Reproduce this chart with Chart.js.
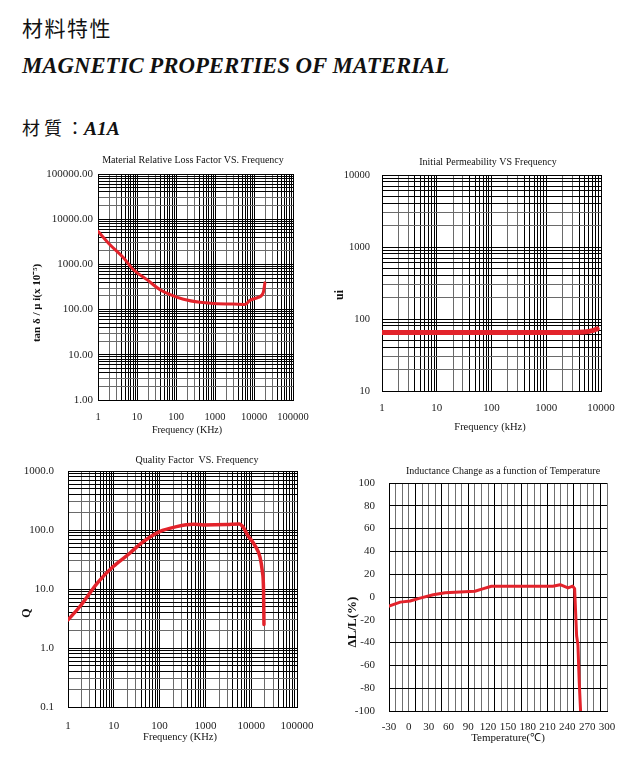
<!DOCTYPE html>
<html>
<head>
<meta charset="utf-8">
<script src="https://cdn.jsdelivr.net/npm/chart.js@4.4.1/dist/chart.umd.min.js"></script>
<style>
  body { margin: 0; background: #fff; width: 631px; height: 757px; position: relative; overflow: hidden; }
  .hd { position: absolute; left: 22px; color: #111; white-space: nowrap; line-height: 1; }
  #h1 { top: 12px; font: 21px "Noto Sans CJK TC"; letter-spacing: 1.5px; }
  #h2 { top: 53px; font: italic bold 22.8px "Liberation Serif"; }
  #h3 { top: 114px; font: 18px "Noto Sans CJK TC"; }
  #h3 .cj { letter-spacing: 4px; }
  #h3 b { font: italic bold 19.5px "Liberation Serif"; }
  canvas { position: absolute; }
</style>
</head>
<body>
<div class="hd" id="h1">材料特性</div>
<div class="hd" id="h2">MAGNETIC PROPERTIES OF MATERIAL</div>
<div class="hd" id="h3"><span class="cj">材質</span>：<b>A1A</b></div>

<canvas id="lossChart" width="310" height="295" style="left:0;top:145px"></canvas>
<canvas id="permChart" width="300" height="295" style="left:320px;top:145px"></canvas>
<canvas id="qChart" width="320" height="305" style="left:0;top:445px"></canvas>
<canvas id="tempChart" width="311" height="300" style="left:320px;top:455px"></canvas>

<script>
// Material relative loss factor tan d / ui (x10^-5) vs frequency (kHz)
const lossFreq = [1, 2, 4.5, 8, 18, 39, 71, 155, 415, 1100, 2950, 5900, 7900, 12800, 17300, 19000];
const lossValue = [5400, 2750, 1400, 770, 460, 275, 215, 170, 145, 135, 133, 129, 160, 186, 240, 390];
const lossXLabels = ['1', '10', '100', '1000', '10000', '100000'];
const lossYLabels = ['1.00', '10.00', '100.00', '1000.00', '10000.00', '100000.00'];

// Initial permeability vs frequency (kHz)
const permFreq = [1, 10, 100, 1000, 3000, 5000, 7000, 8500];
const permValue = [65, 65, 65, 65, 65, 66, 69, 73];
const permXLabels = ['1', '10', '100', '1000', '10000'];
const permYLabels = ['10', '100', '1000', '10000'];

// Quality factor vs frequency (kHz)
const qFreq = [1, 1.8, 4.5, 9.7, 22, 40, 100, 234, 550, 900, 2950, 5500, 6500, 8500, 12000, 15500, 17500, 18600, 19000];
const qValue = [3.0, 5.0, 13, 24, 40, 60, 94, 114, 125, 122, 124, 127, 115, 80, 55, 35, 20, 9.6, 2.5];
const qXLabels = ['1', '10', '100', '1000', '10000', '100000'];
const qYLabels = ['0.1', '1.0', '10.0', '100.0', '1000.0'];

// Inductance change (%) vs temperature (C)
const tempC = [-30, -13, 2, 17, 37, 55, 77, 100, 113, 125, 150, 218, 229, 241, 248, 251, 254, 256, 258, 260];
const dLL = [-8, -4.5, -3.5, -1, 2, 3.8, 4.4, 5, 7.3, 9.4, 9.4, 9.4, 10.8, 8, 9.6, 7.3, -34, -42, -75, -100];
const tempXLabels = ['-30', '0', '30', '60', '90', '120', '150', '180', '210', '240', '270', '300'];
const dLLYLabels = ['-100', '-80', '-60', '-40', '-20', '0', '20', '40', '60', '80', '100'];

const RED = '#e3232b';

Chart.defaults.font.family = '"Liberation Serif", serif';
Chart.defaults.color = '#111';
Chart.defaults.animation = false;
Chart.defaults.events = [];
Chart.defaults.plugins.legend.display = false;
Chart.defaults.plugins.tooltip.enabled = false;

// Titles drawn at fixed spots of each canvas
const captions = {
    lossChart: [
        { text: 'Material Relative Loss Factor VS. Frequency', x: 193, y: 15, font: '10px "Liberation Serif"' },
        { text: 'tan δ / μ i(x 10⁻⁵)', x: 37, y: 158, font: 'bold 11px "Liberation Serif"', rotate: true },
        { text: 'Frequency (KHz)', x: 187, y: 285, font: '10px "Liberation Serif"' }
    ],
    permChart: [
        { text: 'Initial Permeability VS Frequency', x: 168, y: 17, font: '10px "Liberation Serif"' },
        { text: 'ui', x: 20, y: 150, font: 'bold 12px "Liberation Serif"', rotate: true },
        { text: 'Frequency (kHz)', x: 170, y: 282, font: '10.5px "Liberation Serif"' }
    ],
    qChart: [
        { text: 'Quality Factor  VS. Frequency', x: 197, y: 15, font: '10px "Liberation Serif"' },
        { text: 'Q', x: 27, y: 168, font: 'bold 12px "Liberation Serif"', rotate: true },
        { text: 'Frequency (KHz)', x: 180, y: 292, font: '10.5px "Liberation Serif"' }
    ],
    tempChart: [
        { text: 'Inductance Change as a function of Temperature', x: 183, y: 16, font: '10px "Liberation Serif"' },
        { text: 'ΔL/L(%)', x: 33, y: 167, font: 'bold 13px "Liberation Serif"', rotate: true },
        { text: 'Temperature(℃)', x: 188, y: 283, font: '11px "Liberation Serif"' }
    ]
};

const captionPlugin = {
    id: 'captions',
    afterDraw(chart) {
        const ctx = chart.ctx;
        (captions[chart.canvas.id] || []).forEach(item => {
            ctx.save();
            ctx.font = item.font;
            ctx.fillStyle = '#111';
            ctx.textAlign = 'center';
            ctx.textBaseline = 'middle';
            ctx.translate(item.x, item.y);
            if (item.rotate) ctx.rotate(-Math.PI / 2);
            ctx.fillText(item.text, 0, 0);
            ctx.restore();
        });
    }
};
Chart.register(captionPlugin);

// fix the axis box size and drop the label overflow padding,
// so the plot area sits where the layout padding puts it
function fitAxis(isX, size) {
    return scale => {
        if (isX) scale.height = size; else scale.width = size;
        scale.paddingLeft = 0;
        scale.paddingRight = 0;
        scale.paddingTop = 0;
        scale.paddingBottom = 0;
    };
}

// Log axis with 1..9 grid lines in every decade, labels only on decades
function logAxis(labels, size, pad, fontSize, isX) {
    const decades = labels.map(Number);
    const values = [];
    for (let i = 0; i < decades.length - 1; i++) {
        for (let m = 1; m <= 9; m++) values.push(Number((m * decades[i]).toPrecision(6)));
    }
    values.push(decades[decades.length - 1]);
    return {
        type: 'logarithmic',
        min: decades[0],
        max: decades[decades.length - 1],
        afterBuildTicks: scale => { scale.ticks = values.map(v => ({ value: v })); },
        afterFit: fitAxis(isX, size),
        ticks: {
            autoSkip: false,
            maxRotation: 0,
            padding: pad,
            font: { size: fontSize },
            color: '#222',
            callback: v => {
                const i = decades.indexOf(v);
                return i >= 0 ? labels[i] : '';
            }
        },
        grid: {
            drawTicks: false,
            lineWidth: 1,
            color: ctx => {
                const v = ctx.tick.value;
                const m = Math.round(v / Math.pow(10, Math.floor(Math.log10(v) + 1e-9)));
                if (m === 2 || m === 3) return '#6a6a6a';
                return '#000';
            }
        },
        border: { color: '#000', width: 1 }
    };
}

function linAxis(labels, min, max, step, size, pad, fontSize, isX, colorFn) {
    const nums = labels.map(Number);
    const values = [];
    for (let v = min; v <= max; v += step) values.push(v);
    return {
        type: 'linear',
        min: min,
        max: max,
        afterBuildTicks: scale => { scale.ticks = values.map(v => ({ value: v })); },
        afterFit: fitAxis(isX, size),
        ticks: {
            autoSkip: false,
            maxRotation: 0,
            padding: pad,
            font: { size: fontSize },
            color: '#222',
            callback: v => {
                const i = nums.indexOf(v);
                return i >= 0 ? labels[i] : '';
            }
        },
        grid: { drawTicks: false, lineWidth: 1, color: colorFn },
        border: { color: '#000', width: 1 }
    };
}

function makeChart(id, xs, ys, width, smooth, area, xAxis, yAxis) {
    const canvas = document.getElementById(id);
    return new Chart(canvas, {
        type: 'line',
        data: {
            datasets: [{
                data: xs.map((x, i) => ({ x: x, y: ys[i] })),
                borderColor: RED,
                borderWidth: width,
                pointRadius: 0,
                fill: false,
                cubicInterpolationMode: smooth ? 'monotone' : 'default',
                tension: 0,
                borderCapStyle: 'round',
                borderJoinStyle: 'round'
            }]
        },
        options: {
            responsive: false,
            devicePixelRatio: 1,
            layout: { padding: { left: 0, top: area.top, right: canvas.width - area.right, bottom: 0 } },
            scales: { x: xAxis, y: yAxis }
        }
    });
}

// Chart 1: loss factor
makeChart('lossChart', lossFreq, lossValue, 3, true,
    { top: 29, right: 293 },
    logAxis(lossXLabels, 40, 11, 10.5, true),
    logAxis(lossYLabels, 98, 5, 11, false));

// Chart 2: permeability
makeChart('permChart', permFreq, permValue, 5, true,
    { top: 30, right: 281 },
    logAxis(permXLabels, 49, 11, 11, true),
    logAxis(permYLabels, 62, 12, 10.5, false));

// Chart 3: Q factor
makeChart('qChart', qFreq, qValue, 3.5, true,
    { top: 26, right: 297 },
    logAxis(qXLabels, 43, 13, 11, true),
    logAxis(qYLabels, 68, 14, 11, false));

// Chart 4: temperature
makeChart('tempChart', tempC, dLL, 3, false,
    { top: 28, right: 287 },
    linAxis(tempXLabels, -30, 300, 10, 44, 10, 11, true,
        ctx => ((ctx.tick.value + 30) % 40 === 0 ? '#000' : '#6f6f6f')),
    linAxis(dLLYLabels, -100, 100, 20, 69, 14, 11, false, () => '#000'));
</script>
</body>
</html>
